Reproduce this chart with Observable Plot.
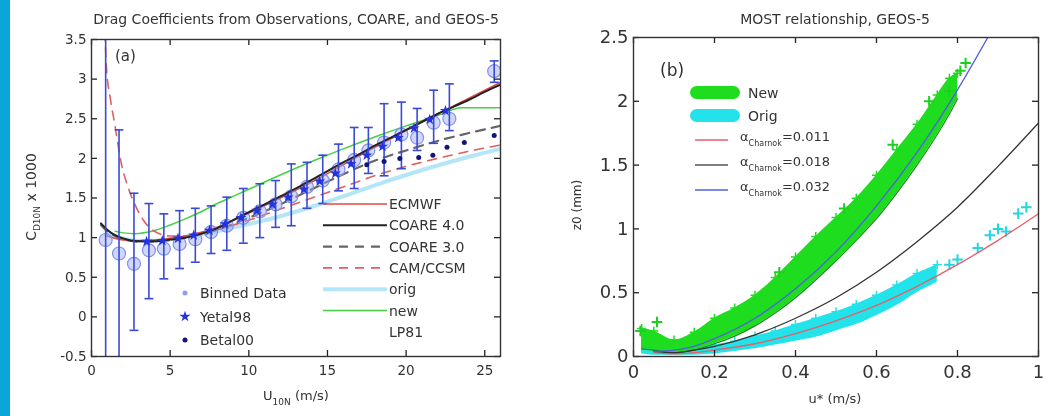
<!DOCTYPE html>
<html><head><meta charset="utf-8">
<script src="https://cdn.jsdelivr.net/npm/d3@7"></script>
<script src="https://cdn.jsdelivr.net/npm/@observablehq/plot@0.6"></script>
<style>
html,body{margin:0;padding:0;background:#fff;}
#wrap{position:relative;width:1047px;height:416px;overflow:hidden;background:#fff;filter:blur(0.4px);}
#strip{position:absolute;left:0;top:0;width:10px;height:416px;background:#0aa6da;}
#pa{position:absolute;left:0;top:0;}
#pb{position:absolute;left:520px;top:0;}
svg{overflow:visible;}
</style></head><body>
<div id="wrap"><div id="pa"></div><div id="pb"></div><div id="strip"></div></div>
<script>
const FONT = "DejaVu Sans, Liberation Sans, Arial, sans-serif";

// ---------------- Panel (a) data ----------------
const aXTicks = [0, 5, 10, 15, 20, 25];
const aYTicks = [-0.5, 0, 0.5, 1, 1.5, 2, 2.5, 3, 3.5];

// binned observations (circle = bin mean, bars = spread)
const binU    = [0.9, 1.75, 2.7, 3.65, 4.6, 5.6, 6.6, 7.6, 8.6, 9.65, 10.7, 11.7, 12.7, 13.7, 14.7, 15.7, 16.7, 17.6, 18.6, 19.7, 20.7, 21.75, 22.75, 25.6];
const binMean = [0.97, 0.80, 0.67, 0.84, 0.86, 0.92, 0.98, 1.07, 1.15, 1.25, 1.33, 1.42, 1.52, 1.64, 1.72, 1.86, 1.98, 2.10, 2.20, 2.30, 2.26, 2.45, 2.50, 3.10];
const binLo   = [-0.7, -0.7, -0.17, 0.23, 0.48, 0.61, 0.69, 0.80, 0.84, 0.93, 1.00, 1.13, 1.15, 1.37, 1.43, 1.59, 1.62, 1.81, 1.78, 1.87, 2.10, 2.19, 2.35, 2.96];
const binHi   = [3.7, 2.36, 1.56, 1.43, 1.30, 1.34, 1.37, 1.40, 1.51, 1.62, 1.68, 1.72, 1.93, 1.95, 2.04, 2.18, 2.39, 2.39, 2.69, 2.71, 2.63, 2.86, 2.94, 3.23];

const yetU = [3.5, 4.5, 5.5, 6.5, 7.5, 8.5, 9.5, 10.5, 11.5, 12.5, 13.5, 14.5, 15.5, 16.5, 17.5, 18.5, 19.5, 20.5, 21.5, 22.5];
const yetC = [0.95, 0.96, 0.99, 1.03, 1.09, 1.17, 1.25, 1.34, 1.42, 1.51, 1.61, 1.71, 1.81, 1.93, 2.04, 2.15, 2.26, 2.38, 2.49, 2.60];

const betU = [17.5, 18.6, 19.6, 20.8, 21.7, 22.6, 23.7, 25.6];
const betC = [1.92, 1.96, 2.00, 2.01, 2.04, 2.14, 2.20, 2.29];

const ecmwf   = [[1,1.02],[2,0.97],[3,0.96],[4,0.97],[5,0.99],[6,1.02],[8,1.13],[10,1.31],[12,1.50],[14,1.70],[16,1.92],[18,2.14],[20,2.35],[22,2.56],[24,2.76],[26,2.96]];
const coare40 = [[0.6,1.18],[1,1.10],[1.5,1.03],[2,0.99],[2.5,0.965],[3,0.955],[4,0.955],[5,0.975],[6,1.00],[7,1.05],[8,1.12],[9,1.22],[10,1.32],[11,1.42],[12,1.52],[13,1.62],[14,1.73],[15,1.84],[16,1.95],[17,2.05],[18,2.16],[19,2.26],[20,2.36],[21,2.46],[22,2.56],[23,2.65],[24,2.74],[25,2.84],[26,2.93]];
const coare30 = [[0.6,1.16],[1,1.08],[1.5,1.02],[2,0.98],[3,0.95],[4,0.95],[5,0.97],[6,1.00],[8,1.10],[10,1.25],[12,1.42],[14,1.61],[16,1.80],[18,1.97],[20,2.10],[22,2.22],[24,2.32],[26,2.41]];
const camccsm = [[0.85,3.6],[0.95,3.15],[1.2,2.75],[1.47,2.44],[1.9,1.93],[2.32,1.64],[2.8,1.40],[3.3,1.22],[4,1.08],[5,1.02],[6,1.02],[7,1.05],[8,1.10],[10,1.22],[12,1.36],[14,1.50],[16,1.64],[18,1.78],[20,1.90],[22,2.00],[24,2.09],[26,2.17]];
const origA   = [[1,1.06],[2,0.99],[3,0.96],[4,0.96],[5,0.98],[6,1.01],[8,1.08],[10,1.17],[12,1.27],[14,1.39],[16,1.52],[18,1.66],[20,1.79],[22,1.91],[24,2.02],[26,2.12]];
const newA    = [[1.5,1.08],[2,1.06],[2.75,1.05],[4,1.09],[5,1.16],[6,1.24],[7,1.33],[8,1.43],[9,1.52],[10,1.61],[12,1.79],[14,1.96],[16,2.12],[18,2.27],[20,2.41],[22,2.54],[23.5,2.64],[26,2.64]];

const aLineLabels   = ["ECMWF", "COARE 4.0", "COARE 3.0", "CAM/CCSM", "orig", "new", "LP81"];
const aMarkerLabels = ["Binned Data", "Yetal98", "Betal00"];

// ---------------- Panel (b) data ----------------
const bXTicks = [0, 0.2, 0.4, 0.6, 0.8, 1];
const bYTicks = [0, 0.5, 1, 1.5, 2, 2.5];

const newBandU  = [0.02, 0.05, 0.1, 0.15, 0.2, 0.25, 0.3, 0.35, 0.4, 0.45, 0.5, 0.55, 0.6, 0.65, 0.7, 0.75, 0.78, 0.8];
const newBandLo = [0.06, 0.05, 0.03, 0.05, 0.10, 0.16, 0.24, 0.34, 0.46, 0.60, 0.75, 0.91, 1.08, 1.28, 1.50, 1.74, 1.90, 2.02];
const newBandHi = [0.22, 0.20, 0.13, 0.19, 0.30, 0.38, 0.48, 0.62, 0.78, 0.94, 1.09, 1.24, 1.42, 1.62, 1.82, 2.05, 2.18, 2.22];
const newScatter = [[0.017,0.20],[0.058,0.27],[0.36,0.66],[0.52,1.16],[0.64,1.66],[0.73,2.0],[0.78,2.08],[0.807,2.24],[0.82,2.3]];

const origBandU  = [0.02, 0.05, 0.1, 0.15, 0.2, 0.25, 0.3, 0.35, 0.4, 0.45, 0.5, 0.55, 0.6, 0.65, 0.7, 0.75];
const origBandLo = [0.02, 0.01, 0.01, 0.01, 0.02, 0.04, 0.06, 0.09, 0.12, 0.15, 0.20, 0.25, 0.32, 0.40, 0.50, 0.58];
const origBandHi = [0.20, 0.16, 0.08, 0.07, 0.09, 0.12, 0.16, 0.20, 0.25, 0.30, 0.35, 0.41, 0.48, 0.56, 0.65, 0.72];
const origScatter = [[0.78,0.72],[0.8,0.76],[0.85,0.85],[0.88,0.95],[0.9,1.0],[0.92,0.98],[0.95,1.12],[0.97,1.17]];

const ch011 = [[0.05,0.03],[0.1,0.02],[0.15,0.03],[0.2,0.05],[0.3,0.10],[0.4,0.18],[0.5,0.28],[0.6,0.40],[0.7,0.55],[0.8,0.72],[0.9,0.91],[1.0,1.12]];
const ch018 = [[0.05,0.04],[0.1,0.03],[0.15,0.05],[0.2,0.08],[0.3,0.17],[0.4,0.30],[0.5,0.46],[0.6,0.66],[0.7,0.90],[0.8,1.17],[0.9,1.49],[1.0,1.83]];
const ch032 = [[0.05,0.04],[0.1,0.05],[0.15,0.08],[0.2,0.14],[0.3,0.30],[0.4,0.53],[0.5,0.82],[0.6,1.18],[0.7,1.60],[0.8,2.09],[0.88,2.53]];
const charnockValues = ["0.011", "0.018", "0.032"];

// ---------------- helpers ----------------
const px = d => d[0], py = d => d[1];
const capSymbol = { draw(ctx, size) { const w = Math.sqrt(size); ctx.moveTo(-w, 0); ctx.lineTo(w, 0); } };

function frameTicks(xt, yt, fw, fh, len) {
  const st = {stroke: "#222", strokeWidth: 1.3};
  return [
    Plot.ruleX(xt, {x: d => d, insetTop: fh - len, ...st}),
    Plot.ruleX(xt, {x: d => d, insetBottom: fh - len, ...st}),
    Plot.ruleY(yt, {y: d => d, insetRight: fw - len, ...st}),
    Plot.ruleY(yt, {y: d => d, insetLeft: fw - len, ...st})
  ];
}

function addText(svg, x, y, parts, o = {}) {
  const size = o.size || 13;
  const t = svg.append("text").attr("x", x).attr("y", y)
    .attr("font-family", FONT).attr("font-size", size)
    .attr("fill", o.fill || "#333").attr("text-anchor", o.anchor || "start");
  if (o.rotate) t.attr("transform", `rotate(${o.rotate},${x},${y})`);
  let shift = 0;
  for (const p of parts) {
    if (typeof p === "string") {
      t.append("tspan").attr("dy", -shift).text(p); shift = 0;
    } else {
      const s = p.shift || size * 0.35;
      t.append("tspan").attr("dy", s - shift).attr("font-size", p.size || size * 0.7).text(p.t); shift = s;
    }
  }
  return t;
}

// ---------------- Panel (a) ----------------
const A = {w: 520, h: 416, ml: 91, mr: 20, mt: 39, mb: 60};
const aFW = A.w - A.ml - A.mr, aFH = A.h - A.mt - A.mb;
const bins = binU.map((u, i) => ({u, m: binMean[i], lo: binLo[i], hi: binHi[i]}));
const yet = yetU.map((u, i) => ({u, c: yetC[i]}));
const bet = betU.map((u, i) => ({u, c: betC[i]}));

const plotA = Plot.plot({
  width: A.w, height: A.h,
  marginLeft: A.ml, marginRight: A.mr, marginTop: A.mt, marginBottom: A.mb,
  x: {domain: [0, 26]},
  y: {domain: [-0.5, 3.5]},
  style: {fontFamily: FONT, fontSize: "13.5px", color: "#333", background: "transparent", overflow: "visible"},
  marks: [
    Plot.line(origA, {x: px, y: py, stroke: "#b4e6f8", strokeWidth: 4, curve: "monotone-x", clip: true}),
    Plot.line(newA, {x: px, y: py, stroke: "#44d044", strokeWidth: 1.5, curve: "monotone-x", clip: true}),
    Plot.line(camccsm, {x: px, y: py, stroke: "#e06060", strokeWidth: 1.6, strokeDasharray: "9,7", curve: "monotone-x", clip: true}),
    Plot.line(coare30, {x: px, y: py, stroke: "#666", strokeWidth: 2.2, strokeDasharray: "9,7", curve: "monotone-x", clip: true}),
    Plot.line(ecmwf, {x: px, y: py, stroke: "#e04848", strokeWidth: 1.6, curve: "monotone-x", clip: true}),
    Plot.dot(bins, {x: "u", y: "m", r: 6.5, fill: "#9aa6f4", fillOpacity: 0.45, stroke: "#8090ec", strokeWidth: 1.2, clip: true}),
    Plot.line(coare40, {x: px, y: py, stroke: "#222", strokeWidth: 2, curve: "monotone-x", clip: true}),
    Plot.ruleX(bins, {x: "u", y1: "lo", y2: "hi", stroke: "#3a4ad8", strokeWidth: 1.6, clip: true}),
    Plot.dot(bins, {x: "u", y: "hi", symbol: capSymbol, r: 2.5, stroke: "#3a4ad8", strokeWidth: 1.6, clip: true}),
    Plot.dot(bins, {x: "u", y: "lo", symbol: capSymbol, r: 2.5, stroke: "#3a4ad8", strokeWidth: 1.6, clip: true}),
    Plot.dot(yet, {x: "u", y: "c", symbol: "star", r: 3.5, fill: "#2233dd", stroke: "none", clip: true}),
    Plot.dot(bet, {x: "u", y: "c", r: 2.5, fill: "#14147a", stroke: "none", clip: true}),
    ...frameTicks(aXTicks, aYTicks, aFW, aFH, 6),
    Plot.frame({stroke: "#333", strokeWidth: 1.4}),
    Plot.axisX(aXTicks, {anchor: "bottom", tickSize: 0, tickPadding: 9, label: null, fontSize: 13.5}),
    Plot.axisY(aYTicks, {anchor: "left", tickSize: 0, tickPadding: 5, label: null, fontSize: 13.5, tickFormat: d => String(d)})
  ]
});
document.getElementById("pa").appendChild(plotA);
const sa = d3.select(plotA);
addText(sa, 296, 24, ["Drag Coefficients from Observations, COARE, and GEOS-5"], {size: 14, anchor: "middle"});
addText(sa, 115, 61, ["(a)"], {size: 15});
addText(sa, 36, 197, ["C", {t: "D10N", size: 9, shift: 4}, " x 1000"], {size: 14, anchor: "middle", rotate: -90});
addText(sa, 296, 400, ["U", {t: "10N", size: 9, shift: 5}, " (m/s)"], {size: 13, anchor: "middle"});

// panel (a) legends
const aLineStyles = [
  {stroke: "#e04848", w: 1.6}, {stroke: "#222", w: 2}, {stroke: "#666", w: 2.2, dash: "9,7"},
  {stroke: "#e06060", w: 1.6, dash: "9,7"}, {stroke: "#b4e6f8", w: 4}, {stroke: "#44d044", w: 1.6}, {stroke: "none", w: 0}
];
aLineLabels.forEach((lab, i) => {
  const y = 204 + i * 21.3, st = aLineStyles[i];
  if (st.stroke !== "none")
    sa.append("line").attr("x1", 323).attr("x2", 387).attr("y1", y).attr("y2", y)
      .attr("stroke", st.stroke).attr("stroke-width", st.w).attr("stroke-dasharray", st.dash || null);
  addText(sa, 389, y + 5, [lab], {size: 14});
});
const aMarkerStyles = [
  {fill: "#8f9cf0", r: 2.5, sym: d3.symbolCircle},
  {fill: "#2233dd", r: 3.5, sym: d3.symbolStar},
  {fill: "#14147a", r: 2.5, sym: d3.symbolCircle}
];
aMarkerLabels.forEach((lab, i) => {
  const y = 293 + i * 23.5, st = aMarkerStyles[i];
  sa.append("path").attr("d", d3.symbol(st.sym, st.r * st.r * Math.PI)()).attr("transform", `translate(185,${y})`).attr("fill", st.fill);
  addText(sa, 200, y + 5, [lab], {size: 14});
});

// ---------------- Panel (b) ----------------
const B = {w: 527, h: 416, ml: 113, mr: 9, mt: 37, mb: 60};
const bFW = B.w - B.ml - B.mr, bFH = B.h - B.mt - B.mb;
const newBand = newBandU.map((u, i) => ({u, lo: newBandLo[i], hi: newBandHi[i]}));
const origBand = origBandU.map((u, i) => ({u, lo: origBandLo[i], hi: origBandHi[i]}));

const plotB = Plot.plot({
  width: B.w, height: B.h,
  marginLeft: B.ml, marginRight: B.mr, marginTop: B.mt, marginBottom: B.mb,
  x: {domain: [0, 1]},
  y: {domain: [0, 2.5]},
  style: {fontFamily: FONT, fontSize: "18px", color: "#333", background: "transparent", overflow: "visible"},
  marks: [
    Plot.areaY(origBand, {x: "u", y1: "lo", y2: "hi", fill: "#22e2ea", curve: "catmull-rom", clip: true}),
    Plot.dot(origBand, {x: "u", y: "hi", symbol: "plus", r: 3, stroke: "#22e2ea", strokeWidth: 1.5, clip: true}),
    Plot.dot(origScatter, {x: px, y: py, symbol: "plus", r: 3.5, stroke: "#22d6e0", strokeWidth: 2, clip: true}),
    Plot.areaY(newBand, {x: "u", y1: "lo", y2: "hi", fill: "#1edc1e", curve: "catmull-rom", clip: true}),
    Plot.line(newBand, {x: "u", y: "lo", stroke: "#138a13", strokeWidth: 1.2, curve: "catmull-rom", clip: true}),
    Plot.dot(newBand, {x: "u", y: "hi", symbol: "plus", r: 3, stroke: "#1edc1e", strokeWidth: 1.5, clip: true}),
    Plot.dot(newScatter, {x: px, y: py, symbol: "plus", r: 3.5, stroke: "#1ed01e", strokeWidth: 2, clip: true}),
    Plot.line(ch011, {x: px, y: py, stroke: "#e4606a", strokeWidth: 1.3, curve: "monotone-x", clip: true}),
    Plot.line(ch018, {x: px, y: py, stroke: "#333", strokeWidth: 1.3, curve: "monotone-x", clip: true}),
    Plot.line(ch032, {x: px, y: py, stroke: "#5060e0", strokeWidth: 1.3, curve: "monotone-x", clip: true}),
    ...frameTicks(bXTicks, bYTicks, bFW, bFH, 6),
    Plot.frame({stroke: "#333", strokeWidth: 1.4}),
    Plot.axisX(bXTicks, {anchor: "bottom", tickSize: 0, tickPadding: 9, label: null, fontSize: 18, tickFormat: d => String(d)}),
    Plot.axisY(bYTicks, {anchor: "left", tickSize: 0, tickPadding: 5, label: null, fontSize: 18, tickFormat: d => String(d)})
  ]
});
document.getElementById("pb").appendChild(plotB);
const sb = d3.select(plotB);
addText(sb, 315, 24, ["MOST relationship, GEOS-5"], {size: 14, anchor: "middle"});
addText(sb, 140, 76, ["(b)"], {size: 17});
addText(sb, 61, 205, ["z0 (mm)"], {size: 12, anchor: "middle", rotate: -90});
addText(sb, 315, 403, ["u* (m/s)"], {size: 13, anchor: "middle"});

// panel (b) legend
sb.append("rect").attr("x", 170).attr("y", 86).attr("width", 50).attr("height", 13).attr("rx", 6.5).attr("fill", "#1edc1e");
addText(sb, 228, 98, ["New"], {size: 14});
sb.append("rect").attr("x", 170).attr("y", 109).attr("width", 50).attr("height", 13).attr("rx", 6.5).attr("fill", "#22e2ea");
addText(sb, 228, 121, ["Orig"], {size: 14});
const bLineColors = ["#e4606a", "#555", "#5060e0"];
charnockValues.forEach((v, i) => {
  const y = 140 + i * 25;
  sb.append("line").attr("x1", 175).attr("x2", 208).attr("y1", y).attr("y2", y).attr("stroke", bLineColors[i]).attr("stroke-width", 1.3);
  addText(sb, 220, y + 1, ["\u03b1", {t: "Charnok", size: 8, shift: 5}, "=" + v], {size: 13});
});
</script>
</body></html>
